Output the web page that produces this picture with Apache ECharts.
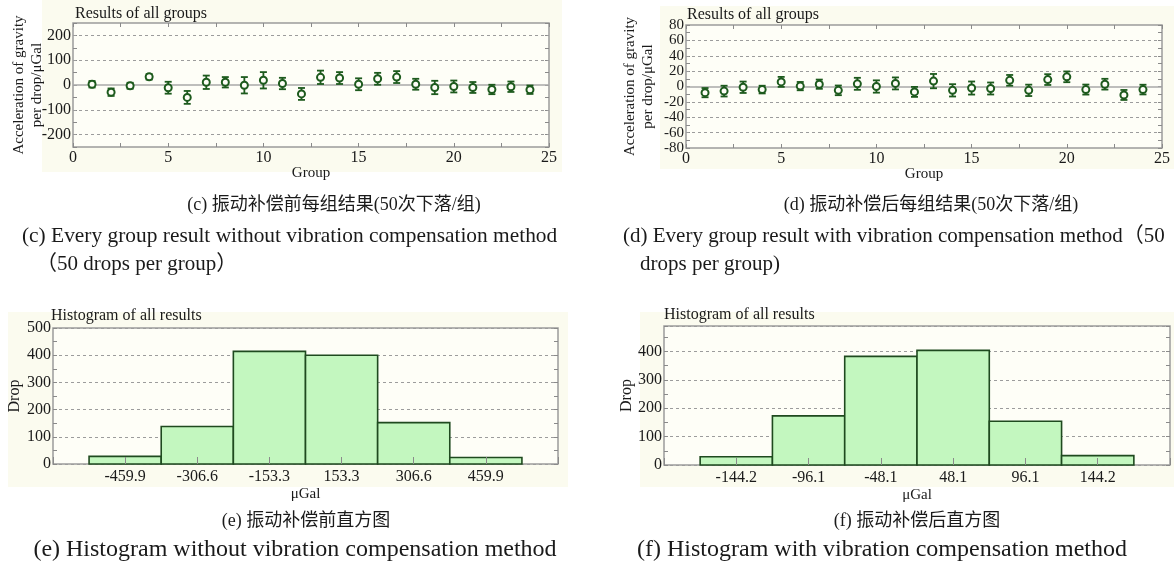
<!DOCTYPE html>
<html>
<head>
<meta charset="utf-8">
<script src="https://cdn.jsdelivr.net/npm/echarts@6/dist/echarts.min.js"></script>
<style>
  html, body { margin: 0; padding: 0; background: #fff; }
  #main { width: 1174px; height: 569px; }
</style>
</head>
<body>
<div id="main"></div>
<script>
// group numbers (x of the two error-bar plots)
const groups = [1, 2, 3, 4, 5, 6, 7, 8, 9, 10, 11, 12, 13, 14, 15, 16, 17, 18, 19, 20, 21, 22, 23, 24]

// (c) before vibration compensation, mean and half error bar per group (μGal)
const beforeMean = [3, -29, -3, 33, -11, -50, 11, 11, -1, 19, 6, -36, 31, 28, 3, 25, 32, 3, -10, -6, -10, -18, -7, -19]
const beforeErr = [13, 15, 12, 11, 24, 26, 27, 21, 33, 33, 23, 24, 27, 24, 24, 24, 24, 22, 27, 24, 22, 19, 21, 17]

// (d) after vibration compensation
const afterMean = [-8, -6, -1, -4, 6, 0.5, 3, -5, 3.5, 0, 4, -7, 7, -5, -2, -2.6, 8, -5, 9, 12.6, -4, 3, -11, -4]
const afterErr = [6, 7, 7.4, 5, 6.5, 5.4, 6, 6.3, 7.8, 8, 7.8, 6.5, 9.3, 8, 8.5, 7.8, 7, 7.4, 7, 7, 6.5, 7, 6.5, 6.3]

// (e) / (f) histograms
const histBeforeLabels = ['-459.9', '-306.6', '-153.3', '153.3', '306.6', '459.9']
const histBeforeCounts = [28, 138, 414, 400, 152, 24]
const histAfterLabels = ['-144.2', '-96.1', '-48.1', '48.1', '96.1', '144.2']
const histAfterCounts = [29, 173, 383, 404, 154, 33]

const FONT = '"Liberation Serif", "Noto Sans CJK SC", serif'
const GREEN = '#1d5a1d'
const GRAY = '#9c9c9c'
const TXT = '#1a1a1a'
const PANEL = '#fbfbef'
const PLOT = '#fefef7'

const myChart = echarts.init(document.getElementById('main'), null, { renderer: 'canvas' })

function errorBarItem(params, api) {
  const x = api.value(0)
  const top = api.coord([x, api.value(2)])
  const bot = api.coord([x, api.value(1)])
  const cap = 3.5
  const st = { stroke: GREEN, lineWidth: 1.8 }
  return {
    type: 'group',
    children: [
      { type: 'line', shape: { x1: top[0], y1: top[1], x2: bot[0], y2: bot[1] }, style: st },
      { type: 'line', shape: { x1: top[0] - cap, y1: top[1], x2: top[0] + cap, y2: top[1] }, style: st },
      { type: 'line', shape: { x1: bot[0] - cap, y1: bot[1], x2: bot[0] + cap, y2: bot[1] }, style: st },
    ],
  }
}

function histItem(params, api) {
  const i = api.value(0)
  const p0 = api.coord([i - 0.5, api.value(1)])
  const p1 = api.coord([i + 0.5, 0])
  return {
    type: 'rect',
    shape: { x: p0[0], y: p0[1], width: p1[0] - p0[0], height: p1[1] - p0[1] },
    style: { fill: '#c3f7bf', stroke: '#1f4a1f', lineWidth: 1.6 },
  }
}

const tickStyle = { inside: true, length: 4, lineStyle: { color: '#8a8a8a', width: 1 } }
const lab = (size) => ({ color: TXT, fontFamily: FONT, fontSize: size })
const minor = { show: true, splitNumber: 2, length: 4, lineStyle: { color: '#8a8a8a' } }

function plain(gridIndex, extra) {
  return Object.assign({
    gridIndex: gridIndex,
    type: 'value',
    nameMoveOverlap: false,
    axisLine: { show: false, onZero: false },
    axisTick: tickStyle,
    splitLine: { show: false },
    axisLabel: { show: false },
  }, extra)
}

const grids = [
  { left: 73, top: 23, width: 476, height: 124 },
  { left: 686, top: 25, width: 476, height: 123 },
  { left: 53, top: 328, width: 505, height: 136 },
  { left: 664, top: 326, width: 506, height: 139 },
].map((g) => Object.assign(g, { show: true, backgroundColor: PLOT, borderColor: GRAY, borderWidth: 1.5 }))

const groupAxis = (gi) => plain(gi, {
  min: 0, max: 25, interval: 2.5,
  axisLabel: Object.assign({ show: true, margin: 3, formatter: (v) => (v % 5 === 0 ? v : '') }, lab(16)),
  name: 'Group', nameLocation: 'middle', nameGap: 19,
  nameTextStyle: lab(15),
})

const accelName = 'Acceleration of gravity\nper drop/μGal'
const nameStyle = { color: TXT, fontFamily: FONT, fontSize: 15, lineHeight: 18 }

const histXAxis = (gi, labels, size) => plain(gi, {
  min: -1, max: 6, interval: 1, z: 5,
  axisTick: { inside: true, length: 7, lineStyle: { color: '#8a8a8a', width: 1 } },
  axisLabel: Object.assign({ show: true, margin: 5, formatter: (v) => labels[v] || '' }, lab(size)),
  name: 'μGal', nameLocation: 'middle', nameGap: 23,
  nameTextStyle: lab(15),
})

const dashed = { type: [3, 3], color: GRAY, width: 1 }

const option = {
  animation: false,
  textStyle: { fontFamily: FONT },
  grid: grids,
  xAxis: [
    groupAxis(0),
    plain(0, { position: 'top', min: 0, max: 25, interval: 2.5 }),
    groupAxis(1),
    plain(1, { position: 'top', min: 0, max: 25, interval: 2.5 }),
    histXAxis(2, histBeforeLabels, 16),
    histXAxis(3, histAfterLabels, 16),
  ],
  yAxis: [
    plain(0, {
      min: -250, max: 250, interval: 50,
      axisLabel: Object.assign({ show: true, margin: 2, formatter: (v) => (v % 100 === 0 && Math.abs(v) <= 200 ? v : '') }, lab(16)),
      name: accelName, nameLocation: 'middle', nameRotate: 90, nameGap: 27, nameTextStyle: nameStyle,
    }),
    plain(0, { position: 'right', min: -250, max: 250, interval: 50 }),
    plain(1, {
      min: -80, max: 80, interval: 10,
      axisLabel: Object.assign({ show: true, margin: 2, lineHeight: 12, formatter: (v) => (v % 20 === 0 ? v : '') }, lab(15)),
      name: accelName, nameLocation: 'middle', nameRotate: 90, nameGap: 29, nameTextStyle: nameStyle,
    }),
    plain(1, { position: 'right', min: -80, max: 80, interval: 10 }),
    plain(2, {
      min: 0, max: 500, interval: 100,
      minorTick: minor,
      splitLine: { show: true, lineStyle: dashed },
      axisLabel: Object.assign({ show: true, margin: 2 }, lab(16)),
      name: 'Drop', nameLocation: 'middle', nameRotate: 90, nameGap: 30,
      nameTextStyle: lab(16),
    }),
    plain(2, { position: 'right', min: 0, max: 500, interval: 100, minorTick: minor }),
    plain(3, {
      min: 0, max: 490, interval: 100,
      minorTick: minor,
      splitLine: { show: true, lineStyle: dashed },
      axisLabel: Object.assign({ show: true, margin: 2, showMaxLabel: false }, lab(16)),
      name: 'Drop', nameLocation: 'middle', nameRotate: 90, nameGap: 29,
      nameTextStyle: lab(16),
    }),
    plain(3, { position: 'right', min: 0, max: 490, interval: 100, minorTick: minor }),
  ],
  series: [
    {
      type: 'custom', xAxisIndex: 0, yAxisIndex: 0, z: 3,
      renderItem: errorBarItem,
      encode: { x: 0, y: [1, 2] },
      data: groups.map((g, i) => [g, beforeMean[i] - beforeErr[i], beforeMean[i] + beforeErr[i]]),
    },
    {
      type: 'scatter', xAxisIndex: 0, yAxisIndex: 0, z: 4,
      symbol: 'circle', symbolSize: 7,
      itemStyle: { color: PLOT, borderColor: GREEN, borderWidth: 2, opacity: 1 },
      data: groups.map((g, i) => [g, beforeMean[i]]),
      markLine: {
        silent: true, symbol: 'none', z: 1, label: { show: false },
        lineStyle: dashed,
        data: [
          { yAxis: 200 }, { yAxis: 100 }, { yAxis: -100 }, { yAxis: -200 },
          { yAxis: 0, lineStyle: { type: 'solid', color: '#a8a8a8', width: 1.5 } },
        ],
      },
    },
    {
      type: 'custom', xAxisIndex: 2, yAxisIndex: 2, z: 3,
      renderItem: errorBarItem,
      encode: { x: 0, y: [1, 2] },
      data: groups.map((g, i) => [g, afterMean[i] - afterErr[i], afterMean[i] + afterErr[i]]),
    },
    {
      type: 'scatter', xAxisIndex: 2, yAxisIndex: 2, z: 4,
      symbol: 'circle', symbolSize: 7,
      itemStyle: { color: PLOT, borderColor: GREEN, borderWidth: 2, opacity: 1 },
      data: groups.map((g, i) => [g, afterMean[i]]),
      markLine: {
        silent: true, symbol: 'none', z: 1, label: { show: false },
        lineStyle: dashed,
        data: [
          { yAxis: 60 }, { yAxis: 40 }, { yAxis: 20 }, { yAxis: -20 }, { yAxis: -40 }, { yAxis: -60 },
          { yAxis: 0, lineStyle: { type: 'solid', color: '#a8a8a8', width: 1.5 } },
        ],
      },
    },
    {
      type: 'custom', xAxisIndex: 4, yAxisIndex: 4, z: 2,
      renderItem: histItem,
      encode: { x: 0, y: 1 },
      data: histBeforeCounts.map((c, i) => [i, c]),
    },
    {
      type: 'custom', xAxisIndex: 5, yAxisIndex: 6, z: 2,
      renderItem: histItem,
      encode: { x: 0, y: 1 },
      data: histAfterCounts.map((c, i) => [i, c]),
    },
  ],
  graphic: [
    // cream panels behind each plot
    { type: 'rect', z: -10, shape: { x: 42, y: 0, width: 520, height: 172 }, style: { fill: PANEL } },
    { type: 'rect', z: -10, shape: { x: 660, y: 6, width: 514, height: 163 }, style: { fill: PANEL } },
    { type: 'rect', z: -10, shape: { x: 8, y: 312, width: 560, height: 175 }, style: { fill: PANEL } },
    { type: 'rect', z: -10, shape: { x: 640, y: 312, width: 534, height: 175 }, style: { fill: PANEL } },
    // plot titles
    { type: 'text', x: 75, y: 14, style: { text: 'Results of all groups', fontFamily: FONT, fontSize: 16, fill: TXT, verticalAlign: 'middle' } },
    { type: 'text', x: 687, y: 15, style: { text: 'Results of all groups', fontFamily: FONT, fontSize: 16, fill: TXT, verticalAlign: 'middle' } },
    { type: 'text', x: 51, y: 316, style: { text: 'Histogram of all results', fontFamily: FONT, fontSize: 16, fill: TXT, verticalAlign: 'middle' } },
    { type: 'text', x: 664, y: 315, style: { text: 'Histogram of all results', fontFamily: FONT, fontSize: 16, fill: TXT, verticalAlign: 'middle' } },
    // captions
    { type: 'text', x: 334, y: 205, style: { text: '(c) 振动补偿前每组结果(50次下落/组)', fontFamily: FONT, fontSize: 18, fill: TXT, align: 'center', verticalAlign: 'middle' } },
    { type: 'text', x: 22, y: 236, style: { text: '(c) Every group result without vibration compensation method', fontFamily: FONT, fontSize: 21.4, fill: TXT, verticalAlign: 'middle' } },
    { type: 'text', x: 36, y: 264, style: { text: '（50 drops per group）', fontFamily: FONT, fontSize: 21, fill: TXT, verticalAlign: 'middle' } },
    { type: 'text', x: 931, y: 205, style: { text: '(d) 振动补偿后每组结果(50次下落/组)', fontFamily: FONT, fontSize: 18, fill: TXT, align: 'center', verticalAlign: 'middle' } },
    { type: 'text', x: 623, y: 236, style: { text: '(d) Every group result with vibration compensation method（50', fontFamily: FONT, fontSize: 21, fill: TXT, verticalAlign: 'middle' } },
    { type: 'text', x: 640, y: 264, style: { text: 'drops per group)', fontFamily: FONT, fontSize: 21, fill: TXT, verticalAlign: 'middle' } },
    { type: 'text', x: 306, y: 521, style: { text: '(e) 振动补偿前直方图', fontFamily: FONT, fontSize: 18, fill: TXT, align: 'center', verticalAlign: 'middle' } },
    { type: 'text', x: 295, y: 550, style: { text: '(e) Histogram without vibration compensation method', fontFamily: FONT, fontSize: 24, fill: TXT, align: 'center', verticalAlign: 'middle' } },
    { type: 'text', x: 917, y: 521, style: { text: '(f) 振动补偿后直方图', fontFamily: FONT, fontSize: 18, fill: TXT, align: 'center', verticalAlign: 'middle' } },
    { type: 'text', x: 882, y: 550, style: { text: '(f) Histogram with vibration compensation method', fontFamily: FONT, fontSize: 24, fill: TXT, align: 'center', verticalAlign: 'middle' } },
  ],
}

myChart.setOption(option)
</script>
</body>
</html>
